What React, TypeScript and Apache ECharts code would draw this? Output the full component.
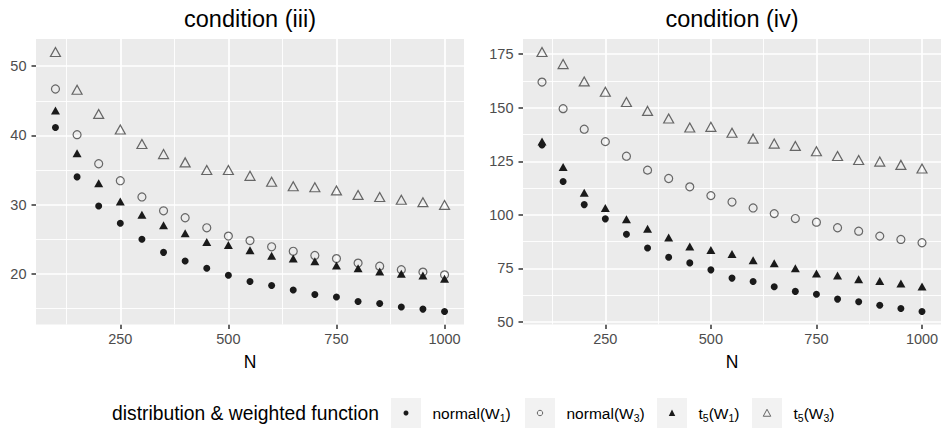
import React, { useEffect, useRef } from 'react';
import * as echarts from 'echarts';

const N = [100, 150, 200, 250, 300, 350, 400, 450, 500, 550, 600, 650, 700, 750, 800, 850, 900, 950, 1000];

const panelTitles = ['condition (iii)', 'condition (iv)'];
const seriesNames = ['normal(W1)', 'normal(W3)', 't5(W1)', 't5(W3)'];
const legendLabels = ['normal(W{s|1})', 'normal(W{s|3})', 't{s|5}(W{s|1})', 't{s|5}(W{s|3})'];
const legendTitle = 'distribution & weighted function';

// condition (iii)
const iiiNormalW1 = [41.15, 34.0, 29.8, 27.3, 25.0, 23.1, 21.85, 20.8, 19.8, 18.9, 18.3, 17.65, 17.0, 16.65, 16.0, 15.7, 15.2, 14.9, 14.55];
const iiiNormalW3 = [46.7, 40.1, 35.9, 33.45, 31.1, 29.1, 28.1, 26.65, 25.45, 24.8, 23.9, 23.25, 22.65, 22.2, 21.55, 21.1, 20.6, 20.25, 19.85];
const iiiT5W1 = [43.6, 37.4, 33.1, 30.45, 28.55, 27.0, 25.85, 24.6, 24.15, 23.4, 22.6, 22.2, 21.8, 21.2, 20.8, 20.35, 20.0, 19.75, 19.3];
const iiiT5W3 = [52.05, 46.6, 43.1, 40.85, 38.75, 37.3, 36.1, 35.0, 35.0, 34.15, 33.3, 32.65, 32.5, 32.05, 31.4, 31.1, 30.7, 30.35, 29.95];

// condition (iv)
const ivNormalW1 = [132.6, 115.6, 104.8, 98.15, 91.0, 84.55, 80.2, 77.6, 74.35, 70.5, 68.9, 66.5, 64.3, 63.0, 60.7, 59.5, 57.8, 56.3, 54.9];
const ivNormalW3 = [162.0, 149.6, 140.0, 134.2, 127.4, 120.9, 117.0, 113.1, 109.0, 106.0, 103.25, 100.6, 98.3, 96.6, 94.0, 92.4, 90.1, 88.55, 87.0];
const ivT5W1 = [134.3, 122.4, 110.3, 103.25, 98.0, 93.5, 89.5, 85.3, 83.6, 81.8, 78.8, 77.4, 75.1, 72.6, 71.7, 70.0, 69.1, 68.0, 66.6];
const ivT5W3 = [176.05, 170.4, 162.3, 157.5, 152.7, 148.55, 145.0, 140.8, 141.1, 138.35, 135.6, 133.3, 132.2, 129.7, 127.5, 125.65, 124.9, 123.35, 121.65];

const xMajor = [250, 500, 750, 1000];
const xMinor = [125, 375, 625, 875];
const iiiYMajor = [20, 30, 40, 50];
const iiiYMinor = [15, 25, 35, 45];
const ivYMajor = [50, 75, 100, 125, 150, 175];
const ivYMinor = [62.5, 87.5, 112.5, 137.5, 162.5];

const FONT = '"Liberation Sans", Arial, Helvetica, sans-serif';
const FILLED = '#1A1A1A';
const OPEN = '#666666';

const markerStyles = [
  { symbol: 'circle', size: 7, filled: true },
  { symbol: 'circle', size: 8, filled: false },
  { symbol: 'triangle', size: [9, 8], filled: true },
  { symbol: 'triangle', size: [10, 9], filled: false },
];

export default function App() {
  const ref = useRef<HTMLDivElement>(null);

  useEffect(() => {
    document.body.style.margin = '0';
    const chart = echarts.init(ref.current!, null, { renderer: 'svg' });

    const panels = [
      { data: [iiiNormalW1, iiiNormalW3, iiiT5W1, iiiT5W3], yMajor: iiiYMajor, yMinor: iiiYMinor },
      { data: [ivNormalW1, ivNormalW3, ivT5W1, ivT5W3], yMajor: ivYMajor, yMinor: ivYMinor },
    ];
    const grids = [
      { left: 36, top: 39, width: 428, height: 285.5 },
      { left: 523, top: 39, width: 418, height: 285.5 },
    ];

    const xAxes: any[] = [];
    const yAxes: any[] = [];
    const series: any[] = [];

    panels.forEach((p, i) => {
      const all = p.data.flat();
      const lo = Math.min(...all);
      const hi = Math.max(...all);
      const pad = (hi - lo) * 0.05;
      const xPad = (1000 - 100) * 0.05;
      xAxes.push({
        gridIndex: i,
        type: 'value',
        min: 100 - xPad,
        max: 1000 + xPad,
        splitLine: { show: false },
        axisLine: { show: false },
        axisTick: { show: true, length: 4.5, lineStyle: { color: '#333333', width: 1.5 }, customValues: xMajor },
        axisLabel: {
          customValues: xMajor,
          formatter: (v: number) => String(v),
          color: '#4D4D4D',
          fontSize: 14.5,
          margin: 7,
          fontFamily: FONT,
        },
        name: 'N',
        nameLocation: 'middle',
        nameGap: 28,
        nameTextStyle: { fontSize: 17.5, color: '#000', fontFamily: FONT },
      });
      yAxes.push({
        gridIndex: i,
        type: 'value',
        min: lo - pad,
        max: hi + pad,
        splitLine: { show: false },
        axisLine: { show: false },
        axisTick: { show: true, length: 4.5, lineStyle: { color: '#333333', width: 1.5 }, customValues: p.yMajor },
        axisLabel: {
          customValues: p.yMajor,
          formatter: (v: number) => String(v),
          color: '#4D4D4D',
          fontSize: 14.5,
          margin: 9.5,
          fontFamily: FONT,
        },
      });
      const lines: any[] = [];
      xMinor.forEach((v) => lines.push({ xAxis: v, lineStyle: { width: 0.9 } }));
      p.yMinor.forEach((v) => lines.push({ yAxis: v, lineStyle: { width: 0.9 } }));
      xMajor.forEach((v) => lines.push({ xAxis: v, lineStyle: { width: 1.7 } }));
      p.yMajor.forEach((v) => lines.push({ yAxis: v, lineStyle: { width: 1.7 } }));
      series.push({
        type: 'scatter',
        xAxisIndex: i,
        yAxisIndex: i,
        data: [],
        z: 1,
        silent: true,
        markLine: {
          z: 1,
          silent: true,
          symbol: ['none', 'none'],
          label: { show: false },
          lineStyle: { color: '#FFFFFF', type: 'solid' },
          emphasis: { disabled: true },
          data: lines,
        },
      });
      p.data.forEach((vals, k) => {
        const m = markerStyles[k];
        series.push({
          type: 'scatter',
          name: seriesNames[k],
          xAxisIndex: i,
          yAxisIndex: i,
          z: 10,
          symbol: m.symbol,
          symbolSize: m.size,
          itemStyle: m.filled
            ? { color: FILLED, borderWidth: 0, opacity: 1 }
            : { color: 'rgba(0,0,0,0)', borderColor: OPEN, borderWidth: 1.2, opacity: 1 },
          data: N.map((n, j) => [n, vals[j]]),
        });
      });
    });

    const graphic: any[] = [];
    const centers = [grids[0].left + grids[0].width / 2, grids[1].left + grids[1].width / 2];
    panelTitles.forEach((t, i) => {
      graphic.push({
        type: 'text',
        x: centers[i],
        y: 19,
        style: { text: t, fontSize: 23.5, fontFamily: FONT, fill: '#000', align: 'center', verticalAlign: 'middle' },
      });
    });

    const legY = 413;
    graphic.push({
      type: 'text',
      x: 112,
      y: legY,
      style: { text: legendTitle, fontSize: 19.3, fontFamily: FONT, fill: '#000', align: 'left', verticalAlign: 'middle' },
    });
    const boxX = [391, 525, 657, 752];
    legendLabels.forEach((lab, k) => {
      const bx = boxX[k];
      const cx = bx + 15;
      graphic.push({
        type: 'rect',
        shape: { x: bx, y: legY - 15, width: 30, height: 30 },
        style: { fill: '#F2F2F2' },
      });
      const m = markerStyles[k];
      if (m.symbol === 'circle') {
        graphic.push({
          type: 'circle',
          shape: { cx, cy: legY, r: m.filled ? 2.5 : 2.7 },
          style: m.filled ? { fill: FILLED } : { fill: 'none', stroke: OPEN, lineWidth: 1 },
        });
      } else {
        const w = m.filled ? 6.5 : 7.5;
        const h = m.filled ? 5.8 : 6.5;
        graphic.push({
          type: 'polygon',
          shape: { points: [[cx, legY - h / 2 - 0.5], [cx + w / 2, legY + h / 2], [cx - w / 2, legY + h / 2]] },
          style: m.filled ? { fill: FILLED } : { fill: 'none', stroke: OPEN, lineWidth: 1 },
        });
      }
      graphic.push({
        type: 'text',
        x: bx + 41.5,
        y: legY,
        style: {
          text: lab,
          fontSize: 15.5,
          lineHeight: 20,
          fontFamily: FONT,
          fill: '#000',
          align: 'left',
          verticalAlign: 'middle',
          rich: {
            s: { fontSize: 10.5, fontFamily: FONT, fill: '#000', verticalAlign: 'bottom', lineHeight: 11 },
          },
        },
      });
    });

    chart.setOption({
      animation: false,
      backgroundColor: '#FFFFFF',
      grid: grids.map((g) => ({ ...g, show: true, backgroundColor: '#EBEBEB', borderWidth: 0, containLabel: false })),
      xAxis: xAxes,
      yAxis: yAxes,
      series,
      graphic,
    });

    return () => chart.dispose();
  }, []);

  return <div ref={ref} style={{ position: 'fixed', left: 0, top: 0, width: 943, height: 431 }} />;
}
